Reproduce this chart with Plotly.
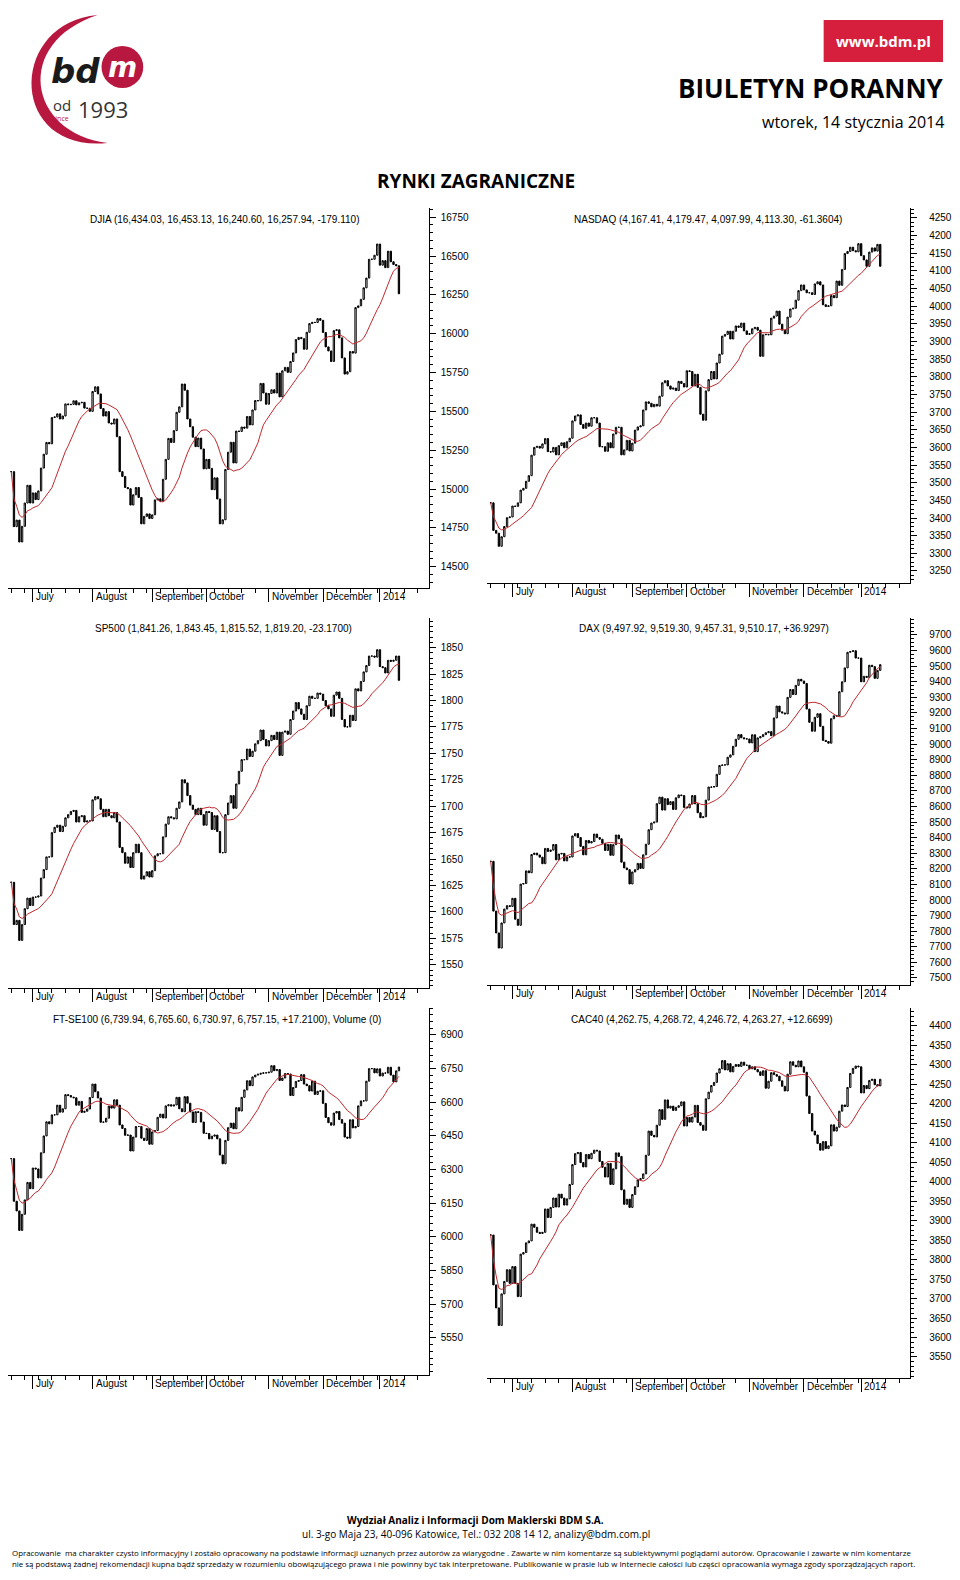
import pandas as pd
import plotly.graph_objects as go

# ---------------- data ----------------
holidays = ["2013-07-04", "2013-09-02", "2013-11-28", "2013-12-25", "2014-01-01"]
month_labels = ["July", "August", "September", "October", "November", "December", "2014"]

djia_close = [15112,14758,14800,14659,14760,14910,15024,14910,
 14975,14932,14988,15135,15224,15300,15291,15460,15464,15484,15451,15470,15548,15543,15545,15568,15542,15555,15558,15521,15520,15500,
 15628,15658,15612,15518,15470,15498,15425,15419,15451,15337,15112,15081,15010,15002,14897,14963,15010,14946,14776,14824,14840,14810,
 14834,14930,14937,14922,15063,15191,15326,15300,15376,15494,15529,15676,15636,15451,15401,15334,15273,15328,15258,15130,
 15191,15133,14996,15072,14936,14776,14802,15126,15237,15301,15168,15373,15371,15399,15392,15467,15413,15509,15570,15568,15680,15618,15546,
 15615,15639,15618,15746,15593,15761,15783,15751,15821,15876,15962,15976,15968,15900,16009,16065,16073,16072,16097,16086,
 16008,15915,15889,15821,16020,16025,15973,15844,15740,15755,15885,15875,16168,16179,16221,16295,16358,16479,16479,16505,16577,
 16441,16470,16425,16531,16463,16445,16437,16257]

nasdaq_close = [3443,3365,3357,3320,3347,3376,3401,3403,
 3434,3433,3443,3479,3484,3504,3520,3578,3600,3603,3598,3610,3625,3588,3587,3600,3579,3605,3613,3599,3616,3626,
 3675,3689,3692,3665,3654,3669,3660,3684,3684,3669,3602,3602,3589,3613,3599,3638,3657,3657,3579,3593,3620,3590,
 3612,3649,3658,3661,3706,3729,3725,3715,3722,3717,3745,3783,3789,3774,3765,3768,3761,3787,3781,3771,
 3817,3815,3774,3807,3770,3694,3677,3760,3792,3815,3794,3839,3864,3915,3920,3929,3907,3929,3944,3940,3952,3930,3920,
 3922,3936,3940,3932,3858,3919,3920,3919,3966,3972,3986,3949,3932,3922,3969,3992,3994,4017,4044,4060,
 4046,4038,4038,4033,4063,4069,4060,4004,3999,4001,4030,4024,4071,4059,4104,4149,4155,4167,4157,4154,4177,
 4143,4131,4113,4153,4165,4156,4175,4113]

sp500_close = [1628,1588,1592,1573,1588,1603,1613,1606,
 1614,1614,1615,1632,1640,1652,1652,1675,1680,1682,1676,1681,1689,1692,1695,1696,1685,1690,1691,1685,1686,1686,
 1706,1709,1707,1697,1690,1697,1691,1689,1694,1685,1661,1656,1646,1652,1642,1656,1664,1656,1631,1634,1638,1633,
 1639,1653,1655,1655,1671,1683,1690,1689,1688,1698,1704,1725,1722,1710,1701,1697,1692,1698,1692,1682,
 1695,1694,1678,1691,1676,1656,1656,1692,1703,1710,1698,1721,1733,1744,1744,1754,1747,1752,1759,1762,1772,1763,1757,
 1762,1767,1763,1770,1748,1770,1771,1768,1782,1790,1798,1792,1787,1782,1795,1804,1802,1802,1807,1806,
 1800,1795,1792,1785,1805,1808,1802,1782,1775,1775,1786,1781,1811,1809,1818,1827,1833,1842,1842,1841,1848,
 1832,1831,1826,1838,1837,1838,1842,1819]

dax_close = [8248,7929,7789,7692,7853,7942,7964,7959,
 8011,7877,7838,8102,8106,8187,8175,8292,8301,8289,8275,8233,8331,8312,8320,8356,8258,8295,8299,8251,8277,8276,
 8411,8426,8401,8344,8290,8382,8366,8375,8423,8401,8390,8364,8318,8357,8287,8355,8417,8393,8243,8206,8195,8103,
 8180,8195,8235,8203,8290,8358,8451,8494,8500,8618,8660,8577,8650,8612,8631,8581,8656,8674,8670,8594,
 8591,8616,8670,8617,8560,8528,8534,8641,8725,8724,8728,8806,8863,8866,8867,8916,8931,8986,9031,9061,9041,9034,9033,
 9008,9060,8952,9040,9048,9061,9073,9080,9054,9168,9244,9207,9200,9194,9300,9350,9318,9377,9416,9405,
 9389,9225,9140,9083,9172,9195,9114,9024,9017,9006,9163,9182,9181,9336,9400,9489,9589,9594,9599,9552,9552,
 9400,9435,9428,9506,9497,9422,9473,9510]

ftse_close = [6349,6159,6116,6029,6101,6165,6243,6215,
 6307,6303,6263,6375,6450,6513,6504,6544,6544,6587,6556,6571,6634,6630,6623,6620,6587,6604,6555,6560,6570,6621,
 6681,6647,6619,6511,6512,6529,6583,6574,6611,6587,6499,6483,6453,6454,6383,6445,6492,6492,6440,6430,6483,6413,
 6468,6474,6533,6547,6530,6584,6589,6583,6588,6622,6571,6558,6625,6596,6557,6510,6558,6555,6512,6462,
 6461,6437,6449,6454,6437,6365,6326,6430,6487,6507,6482,6576,6561,6622,6655,6696,6674,6713,6721,6725,6729,6731,6731,
 6734,6763,6741,6746,6697,6708,6728,6726,6630,6666,6693,6697,6723,6681,6674,6650,6694,6635,6649,6651,
 6595,6532,6509,6498,6552,6559,6523,6507,6445,6440,6522,6486,6492,6584,6606,6606,6694,6750,6750,6731,6749,
 6717,6730,6730,6756,6721,6691,6740,6757]

cac_close = [3863,3735,3676,3631,3712,3744,3774,3739,
 3782,3739,3705,3814,3818,3843,3848,3891,3883,3870,3867,3870,3930,3908,3934,3958,3935,3968,3958,3940,3956,3993,
 4044,4072,4075,4049,4038,4070,4059,4073,4081,4079,4052,4037,4012,4047,3993,4033,4074,4065,3979,3942,3955,3934,
 3967,3987,4005,4008,4020,4068,4130,4119,4115,4145,4185,4160,4210,4189,4194,4183,4191,4195,4205,4143,
 4165,4153,4166,4196,4152,4145,4132,4213,4230,4247,4255,4279,4290,4311,4287,4303,4282,4296,4301,4296,4307,4299,4299,
 4290,4295,4288,4282,4273,4285,4240,4258,4280,4275,4271,4259,4245,4233,4276,4308,4299,4295,4310,4295,
 4281,4220,4175,4130,4120,4098,4081,4103,4085,4092,4146,4130,4140,4181,4197,4193,4242,4278,4291,4297,4295,
 4228,4247,4239,4260,4263,4249,4246,4263]

titles = ["DJIA (16,434.03, 16,453.13, 16,240.60, 16,257.94, -179.110)",
          "NASDAQ (4,167.41, 4,179.47, 4,097.99, 4,113.30, -61.3604)",
          "SP500 (1,841.26, 1,843.45, 1,815.52, 1,819.20, -23.1700)",
          "DAX (9,497.92, 9,519.30, 9,457.31, 9,510.17, +36.9297)",
          "FT-SE100 (6,739.94, 6,765.60, 6,730.97, 6,757.15, +17.2100), Volume (0)",
          "CAC40 (4,262.75, 4,268.72, 4,246.72, 4,263.27, +12.6699)"]
series = [djia_close, nasdaq_close, sp500_close, dax_close, ftse_close, cac_close]
ytick_sets = [list(range(14500, 16751, 250)), list(range(3250, 4251, 50)),
              list(range(1550, 1851, 25)), list(range(7500, 9701, 100)),
              list(range(5550, 6901, 150)), list(range(3550, 4401, 50))]

# ---------------- geometry: page px -> paper ----------------
OFF = 5
W, H = 944, 1564


def px(x):
    return min(1, max(0, (x - OFF) / W))


def py(y):
    return min(1, max(0, 1 - (y - OFF) / H))


dates = [d for d in pd.bdate_range("2013-06-19", "2014-01-13") if d.strftime("%Y-%m-%d") not in holidays]
month_idx = []
for i, d in enumerate(dates):
    if i > 0 and d.month != dates[i - 1].month:
        month_idx.append(i)

panels = [  # x0,x1,y0,y1 px, yrange, title x px
    (5, 428, 205, 585, (14363, 16809), 85),
    (487, 912, 205, 580, (3216, 4278), 572),
    (5, 428, 615, 985, (1528, 1878), 90),
    (487, 912, 615, 982, (7455, 9809), 577),
    (5, 428, 1005, 1372, (5385, 7020), 48),
    (487, 912, 1005, 1375, (3496, 4446), 569),
]
XR = [-1.2, 154]
FONT = "Liberation Sans, Arial, sans-serif"

fig = go.Figure()
annotations = []
for k, (x0, x1, y0, y1, yr, tx) in enumerate(panels):
    closes = series[k]
    n = min(len(closes), len(dates))
    c = closes[:n]
    o = [c[0]] + c[:-1]
    hi = [max(a, b) for a, b in zip(o, c)]
    lo = [min(a, b) for a, b in zip(o, c)]
    xs = list(range(n))
    ma = pd.Series(c).rolling(15, min_periods=1).mean().tolist()
    ax = "" if k == 0 else str(k + 1)
    fig.add_trace(go.Candlestick(
        x=xs, open=o, high=hi, low=lo, close=c, xaxis="x" + ax, yaxis="y" + ax,
        increasing=dict(line=dict(color="black", width=1), fillcolor="white"),
        decreasing=dict(line=dict(color="black", width=1), fillcolor="black"),
        whiskerwidth=0, showlegend=False, hoverinfo="skip"))
    fig.add_trace(go.Scatter(x=xs, y=ma, mode="lines", xaxis="x" + ax, yaxis="y" + ax,
                             line=dict(color="#c0282d", width=1), showlegend=False, hoverinfo="skip"))
    xd = [px(x0), px(x1)]
    yd = [py(y1), py(y0)]
    fig.layout["xaxis" + ax] = dict(
        domain=xd, range=XR, anchor="y" + ax, showgrid=False, zeroline=False,
        showline=True, linecolor="black", linewidth=1,
        tickmode="array", tickvals=month_idx, ticktext=[""] * len(month_idx),
        ticks="outside", ticklen=13, tickcolor="black",
        minor=dict(ticks="outside", tickmode="linear", tick0=0, dtick=5, ticklen=4, tickcolor="black"),
        rangeslider=dict(visible=False), fixedrange=True)
    fig.layout["yaxis" + ax] = dict(
        domain=yd, range=list(yr), anchor="x" + ax, side="right", showgrid=False, zeroline=False,
        showline=True, linecolor="black", linewidth=1, tickformat="d",
        tickmode="array", tickvals=ytick_sets[k], ticks="outside", ticklen=6, tickcolor="black",
        ticklabelstandoff=3 if x1 < 500 else 10,
        tickfont=dict(family=FONT, size=10, color="black"),
        minor=dict(ticks="outside", ticklen=3, tickcolor="black",
                   dtick=(ytick_sets[k][1] - ytick_sets[k][0]) / (5 if k in (0, 2, 4) else 4)),
        fixedrange=True)
    for mi, lab in zip(month_idx, month_labels):
        annotations.append(dict(x=mi, y=yd[0], xref="x" + ax, yref="paper", text=lab,
                                xanchor="left", yanchor="top", xshift=1, yshift=-1, showarrow=False,
                                font=dict(family=FONT, size=10, color="black")))
    annotations.append(dict(x=px(tx), y=py(y0 + 11), xref="paper", yref="paper", text=titles[k],
                            xanchor="left", yanchor="middle", showarrow=False,
                            font=dict(family=FONT, size=10, color="black")))


def txt(x, y, text, size, color="black", family="Open Sans, Lato, sans-serif", xa="center"):
    return dict(x=px(x), y=py(y), xref="paper", yref="paper", text=text, showarrow=False,
                xanchor=xa, yanchor="middle", font=dict(family=family, size=size, color=color))


annotations += [
    txt(885, 38, "<b>www.bdm.pl</b>", 15, "white"),
    txt(948, 85, "<b>BIULETYN PORANNY</b>", 26, xa="right"),
    txt(948, 119, "wtorek, 14 stycznia 2014", 16, xa="right"),
    txt(475, 178, "<b>RYNKI ZAGRANICZNE</b>", 19),
    txt(46, 68, "<b><i>bd</i></b>", 34, "#1a1a1a", "DejaVu Sans, sans-serif", xa="left"),
    txt(120, 64, "<b><i>m</i></b>", 28, "white", "DejaVu Sans, sans-serif"),
    txt(59, 102, "od", 15, "#333"),
    txt(58, 115, "since", 7, "#c0143c"),
    txt(73, 106, "1993", 22, "#333", xa="left"),
    txt(475, 1517, "<b>Wydział Analiz i Informacji Dom Maklerski BDM S.A.</b>", 10),
    txt(475, 1531, "ul. 3-go Maja 23, 40-096 Katowice, Tel.: 032 208 14 12, analizy@bdm.com.pl", 10),
    txt(7, 1550, "Opracowanie  ma charakter czysto informacyjny i zostało opracowany na podstawie informacji uznanych przez autorów za wiarygodne . Zawarte w nim komentarze są subiektywnymi poglądami autorów. Opracowanie i zawarte w nim komentarze", 7.9, xa="left"),
    txt(7, 1561, "nie są podstawą żadnej rekomendacji kupna bądź sprzedaży w rozumieniu obowiązującego prawa i nie powinny być tak interpretowane. Publikowanie w prasie lub w Internecie całości lub części opracowania wymaga zgody sporządzających raport.", 7.9, xa="left"),
]

arc = "M {},{} C {},{} {},{} {},{} C {},{} {},{} {},{} Z".format(
    px(95), py(12), px(-5), py(20), px(-10), py(150), px(105), py(140),
    px(25), py(130), px(10), py(40), px(95), py(12))
shapes = [
    dict(type="rect", xref="paper", yref="paper", x0=px(825), x1=px(945), y0=py(59), y1=py(17),
         fillcolor="#d61f3c", line=dict(width=0), layer="below"),
    dict(type="path", xref="paper", yref="paper", path=arc, fillcolor="#b8173f", line=dict(width=0)),
    dict(type="circle", xref="paper", yref="paper", x0=px(99), x1=px(141), y0=py(85), y1=py(43),
         fillcolor="#b8173f", line=dict(width=0), layer="below"),
]

fig.update_layout(width=W, height=H, margin=dict(l=0, r=0, t=0, b=0),
                  paper_bgcolor="white", plot_bgcolor="white",
                  annotations=annotations, shapes=shapes)
fig.write_html("out.html")
